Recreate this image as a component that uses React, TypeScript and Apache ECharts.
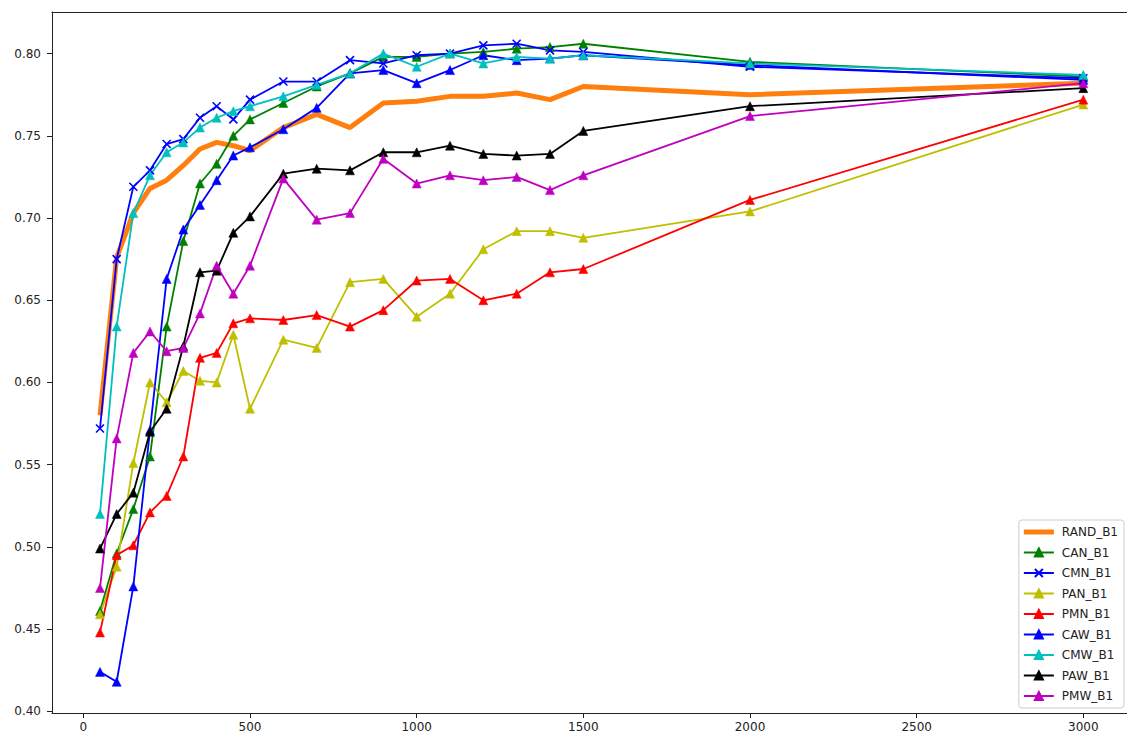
import React, { useEffect, useRef } from "react";
import * as echarts from "echarts";

const xs = [50, 100, 150, 200, 250, 300, 350, 400, 450, 500, 600, 700, 800, 900, 1000, 1100, 1200, 1300, 1400, 1500, 2000, 3000];

const RAND_B1 = [0.580, 0.676, 0.703, 0.718, 0.723, 0.732, 0.742, 0.746, 0.744, 0.741, 0.755, 0.763, 0.755, 0.770, 0.771, 0.774, 0.774, 0.776, 0.772, 0.780, 0.775, 0.782];
const CAN_B1 = [0.461, 0.496, 0.523, 0.555, 0.634, 0.686, 0.721, 0.733, 0.750, 0.760, 0.770, 0.780, 0.788, 0.798, 0.798, 0.800, 0.801, 0.803, 0.804, 0.806, 0.795, 0.786];
const CMN_B1 = [0.572, 0.675, 0.719, 0.729, 0.745, 0.748, 0.761, 0.768, 0.760, 0.772, 0.783, 0.783, 0.796, 0.794, 0.799, 0.800, 0.805, 0.806, 0.802, 0.801, 0.792, 0.785];
const PAN_B1 = [0.459, 0.488, 0.551, 0.600, 0.588, 0.607, 0.601, 0.600, 0.629, 0.584, 0.626, 0.621, 0.661, 0.663, 0.640, 0.654, 0.681, 0.692, 0.692, 0.688, 0.704, 0.769];
const PMN_B1 = [0.448, 0.495, 0.501, 0.521, 0.531, 0.555, 0.615, 0.618, 0.636, 0.639, 0.638, 0.641, 0.634, 0.644, 0.662, 0.663, 0.650, 0.654, 0.667, 0.669, 0.711, 0.772];
const CAW_B1 = [0.424, 0.418, 0.476, 0.571, 0.663, 0.693, 0.708, 0.723, 0.738, 0.743, 0.754, 0.767, 0.788, 0.790, 0.782, 0.790, 0.799, 0.796, 0.797, 0.799, 0.793, 0.784];
const CMW_B1 = [0.520, 0.634, 0.703, 0.726, 0.740, 0.746, 0.755, 0.761, 0.765, 0.768, 0.774, 0.781, 0.788, 0.800, 0.792, 0.800, 0.794, 0.798, 0.797, 0.799, 0.794, 0.787];
const PAW_B1 = [0.499, 0.520, 0.533, 0.570, 0.584, 0.622, 0.667, 0.668, 0.691, 0.701, 0.727, 0.730, 0.729, 0.740, 0.740, 0.744, 0.739, 0.738, 0.739, 0.753, 0.768, 0.779];
const PMW_B1 = [0.475, 0.566, 0.618, 0.631, 0.619, 0.621, 0.642, 0.671, 0.654, 0.671, 0.724, 0.699, 0.703, 0.736, 0.721, 0.726, 0.723, 0.725, 0.717, 0.726, 0.762, 0.782];

const xTicks = [0, 500, 1000, 1500, 2000, 2500, 3000];
const yTicks = [0.40, 0.45, 0.50, 0.55, 0.60, 0.65, 0.70, 0.75, 0.80];

const FONT = "DejaVu Sans";
const TRI = "triangle";
const XMARK = "path://M0,0L10,10M10,0L0,10";
const BAR_ICON = "path://M0,0L30,0L30,5L0,5Z";

type Def = { name: string; values: number[]; color: string; symbol: string; width: number };

const defs: Def[] = [
  { name: "RAND_B1", values: RAND_B1, color: "#ff7f0e", symbol: "none", width: 5 },
  { name: "CAN_B1", values: CAN_B1, color: "#008000", symbol: TRI, width: 1.8 },
  { name: "CMN_B1", values: CMN_B1, color: "#0000ff", symbol: XMARK, width: 1.8 },
  { name: "PAN_B1", values: PAN_B1, color: "#bfbf00", symbol: TRI, width: 1.8 },
  { name: "PMN_B1", values: PMN_B1, color: "#ff0000", symbol: TRI, width: 1.8 },
  { name: "CAW_B1", values: CAW_B1, color: "#0000ff", symbol: TRI, width: 1.8 },
  { name: "CMW_B1", values: CMW_B1, color: "#00bfbf", symbol: TRI, width: 1.8 },
  { name: "PAW_B1", values: PAW_B1, color: "#000000", symbol: TRI, width: 1.8 },
  { name: "PMW_B1", values: PMW_B1, color: "#bf00bf", symbol: TRI, width: 1.8 },
];

export default function App() {
  const ref = useRef<HTMLDivElement>(null);
  useEffect(() => {
    if (!ref.current) return;
    const chart = echarts.init(ref.current, null, { renderer: "svg" });
    const series = defs.map((d) => {
      const isX = d.symbol === XMARK;
      return {
        name: d.name,
        type: "line",
        xAxisIndex: 0,
        yAxisIndex: 0,
        data: xs.map((x, i) => [x, d.values[i]]),
        symbol: d.symbol,
        symbolSize: isX ? 8 : 9,
        showSymbol: d.symbol !== "none",
        lineStyle: { color: d.color, width: d.width },
        itemStyle: isX
          ? { color: d.color, borderColor: d.color, borderWidth: 1.6 }
          : { color: d.color, borderColor: d.color, borderWidth: 0.5 },
        emphasis: { disabled: true },
        z: 2,
      };
    });
    chart.setOption({
      animation: false,
      grid: { left: 52, right: 0, top: 12, bottom: 22, containLabel: false },
      xAxis: [
        {
          type: "value",
          min: -94,
          max: 3131,
          position: "bottom",
          splitLine: { show: false },
          axisLine: { show: true, onZero: false, lineStyle: { color: "#222", width: 1 } },
          axisTick: { show: true, length: 5, customValues: xTicks, lineStyle: { color: "#222" } },
          axisLabel: {
            customValues: xTicks,
            margin: 8,
            color: "#222",
            fontFamily: FONT,
            fontSize: 12,
            formatter: (v: number) => String(Math.round(v)),
          },
        },
        {
          type: "value",
          min: -94,
          max: 3131,
          position: "top",
          splitLine: { show: false },
          axisLine: { show: true, onZero: false, lineStyle: { color: "#222", width: 1 } },
          axisTick: { show: false },
          axisLabel: { show: false },
        },
      ],
      yAxis: {
        type: "value",
        min: 0.399,
        max: 0.8253,
        splitLine: { show: false },
        axisLine: { show: true, onZero: false, lineStyle: { color: "#222", width: 1 } },
        axisTick: { show: true, length: 5, customValues: yTicks, lineStyle: { color: "#222" } },
        axisLabel: {
          customValues: yTicks,
          margin: 11,
          color: "#222",
          fontFamily: FONT,
          fontSize: 12,
          formatter: (v: number) => v.toFixed(2),
        },
      },
      legend: {
        data: defs.map((d) =>
          d.symbol === "none"
            ? { name: d.name, icon: BAR_ICON, itemStyle: { color: d.color, borderWidth: 0 } }
            : { name: d.name }
        ),
        orient: "vertical",
        right: 3,
        bottom: 27,
        itemWidth: 30,
        itemHeight: 10,
        itemGap: 6.5,
        symbolKeepAspect: true,
        padding: [5, 6, 5, 4],
        backgroundColor: "rgba(255,255,255,0.85)",
        borderColor: "#cccccc",
        borderWidth: 1,
        borderRadius: 3,
        textStyle: { fontFamily: FONT, fontSize: 12, color: "#222", lineHeight: 14, padding: [0, 0, 0, 3] },
      },
      series,
    });
    return () => chart.dispose();
  }, []);
  return <div ref={ref} style={{ position: "absolute", left: 0, top: 0, width: 1127, height: 735 }} />;
}
